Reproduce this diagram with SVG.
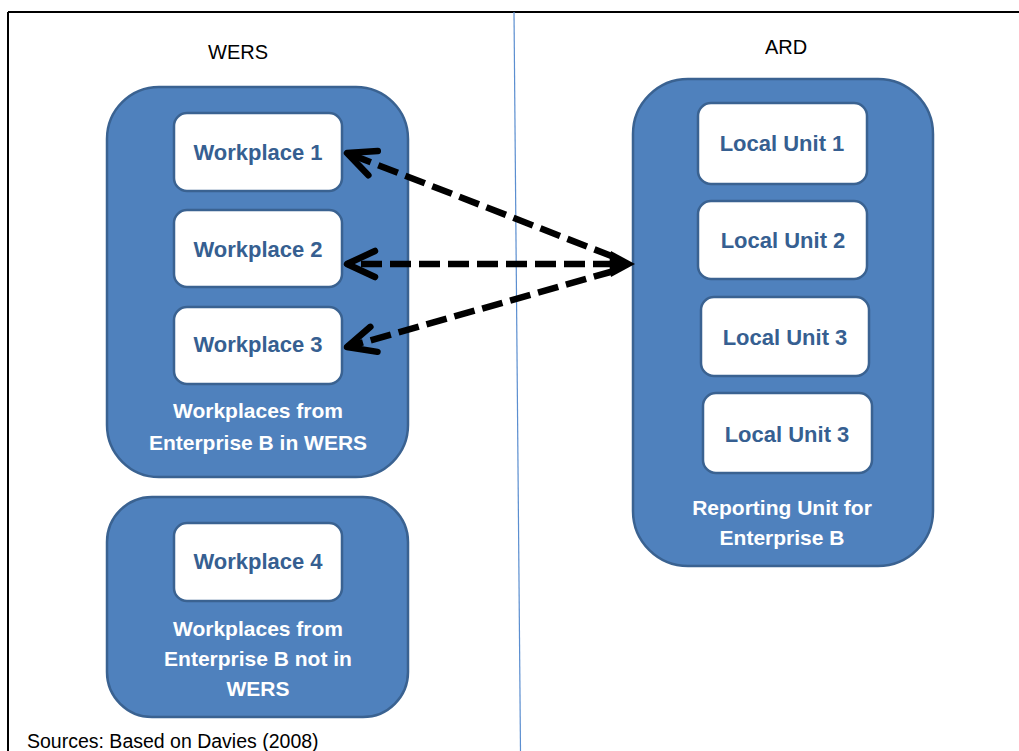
<svg xmlns="http://www.w3.org/2000/svg" width="1019" height="751" viewBox="0 0 1019 751">
<style>
.outer{fill:#4F81BD;stroke:#3A6291;stroke-width:2.5}
.inner{fill:#FFFFFF;stroke:#3A6291;stroke-width:2.5}
.lbl{font-family:"Liberation Sans",Arial,sans-serif;font-weight:bold;font-size:22px;fill:#365F91;text-anchor:middle}
.wl{font-family:"Liberation Sans",Arial,sans-serif;font-weight:bold;font-size:21px;fill:#FFFFFF;text-anchor:middle}
.title{font-family:"Liberation Sans",Arial,sans-serif;font-size:20px;fill:#000000;text-anchor:middle}
.src{font-family:"Liberation Sans",Arial,sans-serif;font-size:19.5px;fill:#000000}
.conn{fill:none;stroke:#000000;stroke-width:6.5;stroke-dasharray:21 8}
</style>
<defs>
<marker id="open" markerUnits="userSpaceOnUse" orient="auto" refX="0" refY="0" markerWidth="40" markerHeight="40" overflow="visible">
<path d="M -28 -13 L 0 0 L -28 13" fill="none" stroke="#000000" stroke-width="6.5" stroke-linecap="round" stroke-linejoin="round"/>
</marker>
</defs>
<rect x="0" y="0" width="1019" height="751" fill="#FFFFFF"/>
<g id="frame">
<line x1="8" y1="12" x2="1019" y2="12" stroke="#000000" stroke-width="2"/>
<line x1="8" y1="12" x2="8" y2="751" stroke="#000000" stroke-width="2"/>
<line x1="514" y1="12" x2="520.5" y2="751" stroke="#5B8ED0" stroke-width="1.2"/>
</g>
<g id="titles">
<text class="title" x="238" y="59">WERS</text>
<text class="title" x="786" y="54">ARD</text>
</g>
<g id="wers-group-in">
<rect class="outer" x="107" y="87" width="301" height="390" rx="52"/>
<text class="wl" x="258" y="418">Workplaces from</text>
<text class="wl" x="258" y="450">Enterprise B in WERS</text>
</g>
<g id="workplace1">
<rect class="inner" x="174" y="113" width="168" height="78" rx="13"/>
<text class="lbl" x="258" y="160">Workplace 1</text>
</g>
<g id="workplace2">
<rect class="inner" x="174" y="210" width="168" height="77" rx="13"/>
<text class="lbl" x="258" y="257">Workplace 2</text>
</g>
<g id="workplace3">
<rect class="inner" x="174" y="307" width="168" height="77" rx="13"/>
<text class="lbl" x="258" y="352">Workplace 3</text>
</g>
<g id="wers-group-out">
<rect class="outer" x="107" y="497" width="301" height="220" rx="45"/>
<text class="wl" x="258" y="636">Workplaces from</text>
<text class="wl" x="258" y="666">Enterprise B not in</text>
<text class="wl" x="258" y="696">WERS</text>
</g>
<g id="workplace4">
<rect class="inner" x="174" y="523" width="168" height="78" rx="13"/>
<text class="lbl" x="258" y="569">Workplace 4</text>
</g>
<g id="ard-group">
<rect class="outer" x="633" y="79" width="300" height="487" rx="55"/>
<text class="wl" x="782" y="515">Reporting Unit for</text>
<text class="wl" x="782" y="545">Enterprise B</text>
</g>
<g id="local1">
<rect class="inner" x="698" y="103" width="169" height="81" rx="13"/>
<text class="lbl" x="782" y="151">Local Unit 1</text>
</g>
<g id="local2">
<rect class="inner" x="698" y="201" width="169" height="78" rx="13"/>
<text class="lbl" x="783" y="248">Local Unit 2</text>
</g>
<g id="local3a">
<rect class="inner" x="701" y="297" width="168" height="79" rx="13"/>
<text class="lbl" x="785" y="345">Local Unit 3</text>
</g>
<g id="local3b">
<rect class="inner" x="703" y="393" width="169" height="80" rx="13"/>
<text class="lbl" x="787" y="442">Local Unit 3</text>
</g>
<g id="connectors">
<path class="conn" d="M 614 257 L 347 153" marker-end="url(#open)"/>
<path class="conn" d="M 614 264 L 347 264" marker-end="url(#open)"/>
<path class="conn" d="M 614 271 L 347 347" marker-end="url(#open)"/>
<path d="M 635 264 L 611 251 Q 608 264 611 277 Z" fill="#000000"/>
</g>
<text class="src" x="27" y="748">Sources: Based on Davies (2008)</text>
</svg>
